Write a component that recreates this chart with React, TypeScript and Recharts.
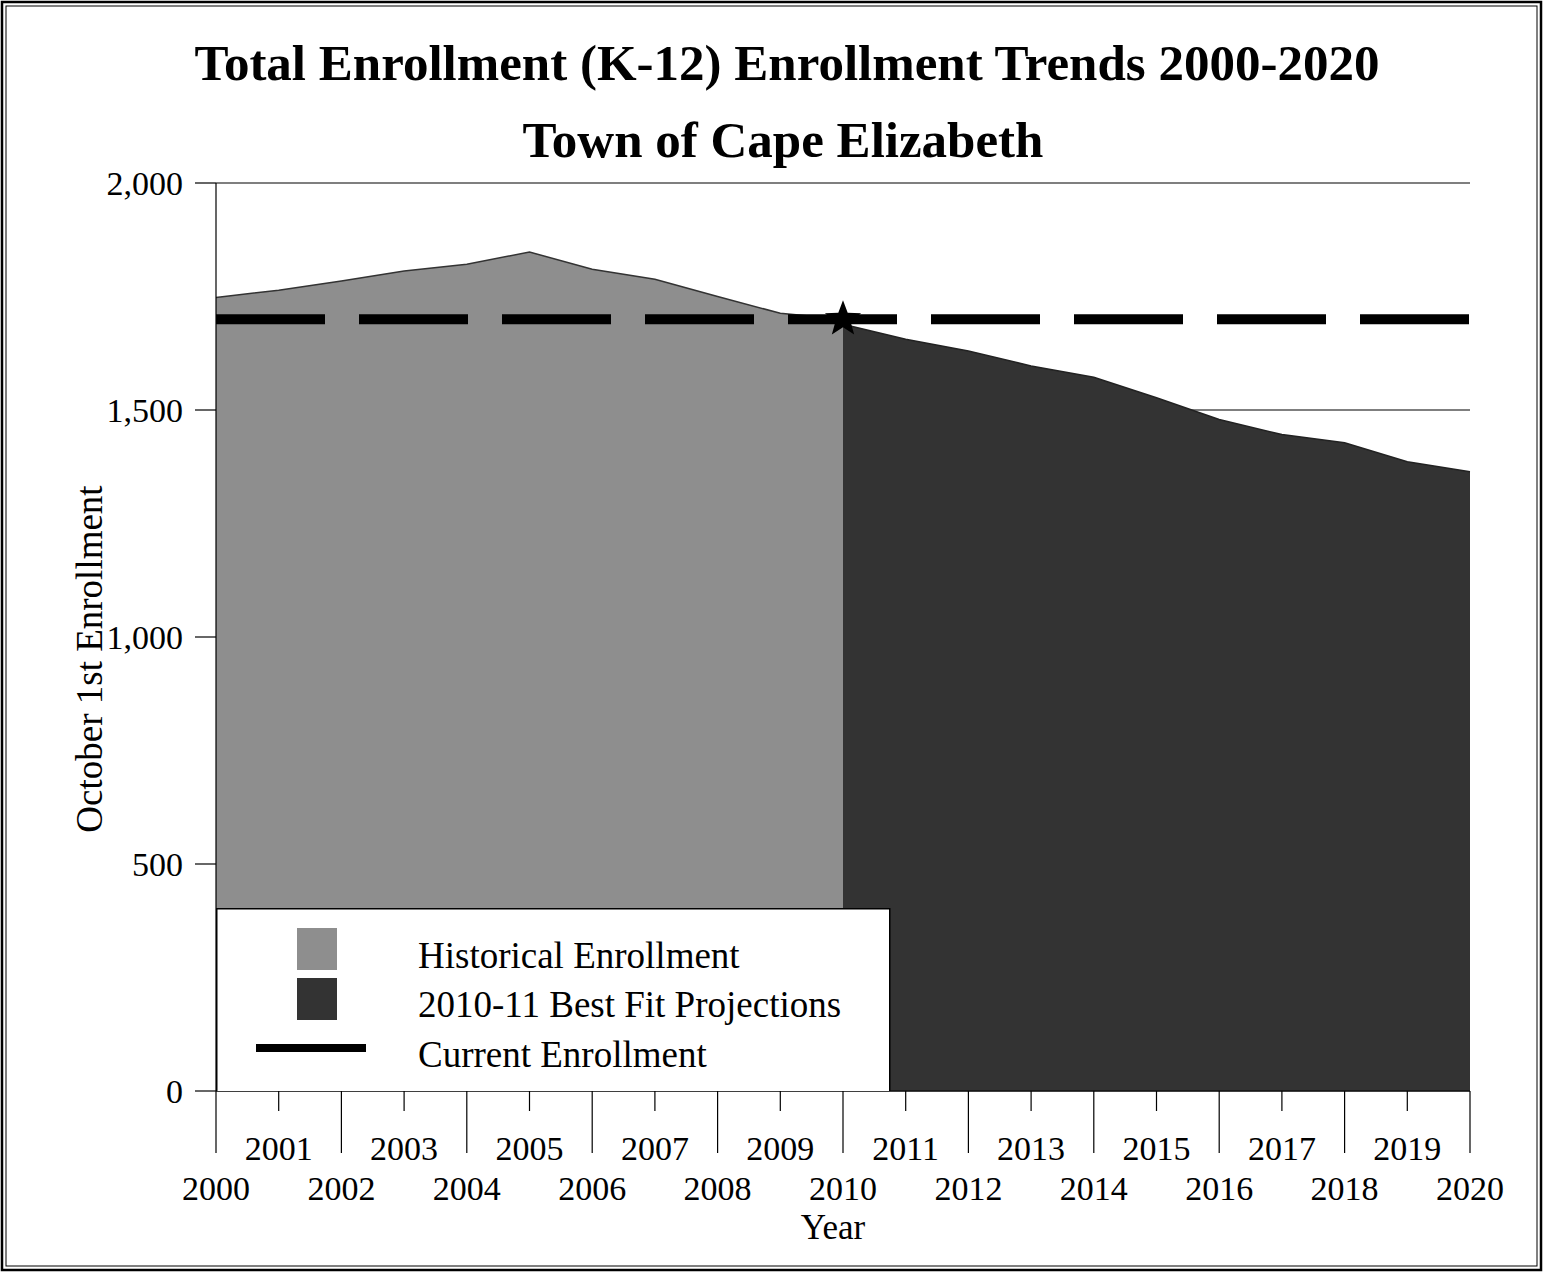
import React from 'react'
import { AreaChart, Area, XAxis, YAxis, CartesianGrid, ReferenceLine, ReferenceDot, Legend } from 'recharts'

const years = [2000, 2001, 2002, 2003, 2004, 2005, 2006, 2007, 2008, 2009, 2010, 2011, 2012, 2013, 2014, 2015, 2016, 2017, 2018, 2019, 2020]
// 2000-2010
const historical = [1748, 1764, 1784, 1806, 1821, 1848, 1810, 1788, 1750, 1713, 1700]
// 2010-2020
const projected = [1689, 1656, 1630, 1597, 1572, 1527, 1479, 1446, 1428, 1386, 1364]
const currentEnrollment = 1700
const yTicks = [0, 500, 1000, 1500, 2000]

const data = years.map((year, i) => ({
  year,
  historical: i <= 10 ? historical[i] : null,
  projected: i >= 10 ? projected[i - 10] : null,
}))

const FONT = '"Liberation Serif", "Times New Roman", serif'
const HIST_FILL = '#8e8e8e'
const PROJ_FILL = '#333333'

function YearTick(props: any) {
  const { x, y, payload } = props
  const odd = payload.value % 2 === 1
  return (
    <g>
      <line x1={x} x2={x} y1={y} y2={y + (odd ? 20 : 62)} stroke="#000" strokeWidth={1.2} />
      <text x={x} y={y + (odd ? 69 : 109)} textAnchor="middle" fontFamily={FONT} fontSize={34} fill="#000">
        {payload.value}
      </text>
    </g>
  )
}

function Star(props: any) {
  const { cx, cy } = props
  const pts: string[] = []
  for (let i = 0; i < 10; i++) {
    const r = i % 2 === 0 ? 19 : 8
    const a = -Math.PI / 2 + (i * Math.PI) / 5
    pts.push(`${cx + r * Math.cos(a)},${cy + r * Math.sin(a)}`)
  }
  return <polygon points={pts.join(' ')} fill="#000" />
}

function LegendBox() {
  return (
    <svg width={675} height={183} style={{ display: 'block' }}>
      <rect x={0.75} y={0.75} width={673} height={183} fill="#fff" stroke="#000" strokeWidth={1.5} />
      <rect x={81} y={20} width={40} height={42} fill={HIST_FILL} />
      <rect x={81} y={70} width={40} height={42} fill={PROJ_FILL} />
      <rect x={40} y={136} width={110} height={8} fill="#000" />
      <text x={202} y={60} fontFamily={FONT} fontSize={37} fill="#000">Historical Enrollment</text>
      <text x={202} y={109} fontFamily={FONT} fontSize={37} fill="#000">2010-11 Best Fit Projections</text>
      <text x={202} y={159} fontFamily={FONT} fontSize={37} fill="#000">Current Enrollment</text>
    </svg>
  )
}

export default function App() {
  return (
    <div style={{ position: 'absolute', left: 0, top: 0, width: 1543, height: 1272, background: '#fff' }}>
      <AreaChart width={1543} height={1272} data={data} margin={{ top: 183, right: 73, bottom: 0, left: 0 }}>
        <CartesianGrid horizontal vertical={false} stroke="#000" strokeWidth={1.2} />
        <XAxis
          dataKey="year"
          type="number"
          domain={[2000, 2020]}
          ticks={years}
          interval={0}
          height={181}
          tickSize={0}
          tickMargin={0}
          tick={<YearTick />}
          axisLine={{ stroke: '#000', strokeWidth: 1.2 }}
        />
        <YAxis
          domain={[0, 2000]}
          ticks={yTicks}
          width={216}
          tickSize={21}
          tickMargin={12}
          tickFormatter={(v: number) => v.toLocaleString('en-US')}
          tick={{ fontFamily: FONT, fontSize: 34, fill: '#000' }}
          tickLine={{ stroke: '#000', strokeWidth: 1.2 }}
          axisLine={{ stroke: '#000', strokeWidth: 1.2 }}
        />
        <YAxis
          yAxisId="right"
          orientation="right"
          domain={[0, 2000]}
          width={0}
          tick={false}
          tickLine={false}
          axisLine={{ stroke: '#000', strokeWidth: 1.2 }}
        />
        <Area
          type="linear"
          dataKey="historical"
          stroke="#333"
          strokeWidth={1.5}
          fill={HIST_FILL}
          fillOpacity={1}
          isAnimationActive={false}
          dot={false}
          activeDot={false}
        />
        <Area
          type="linear"
          dataKey="projected"
          stroke="#222"
          strokeWidth={1.5}
          fill={PROJ_FILL}
          fillOpacity={1}
          isAnimationActive={false}
          dot={false}
          activeDot={false}
        />
        <ReferenceLine y={currentEnrollment} stroke="#000" strokeWidth={10} strokeDasharray="109 34" />
        <ReferenceDot x={2010} y={currentEnrollment} shape={<Star />} />
        <Legend
          layout="horizontal"
          verticalAlign="middle"
          align="center"
          content={() => <LegendBox />}
          wrapperStyle={{ position: 'absolute', left: 216, top: 908, width: 675, height: 183 }}
        />
      </AreaChart>
      <svg width={1543} height={1272} style={{ position: 'absolute', left: 0, top: 0, pointerEvents: 'none' }}>
        <rect x={2} y={2} width={1539} height={1268} fill="none" stroke="#000" strokeWidth={2.5} />
        <rect x={6} y={6} width={1531} height={1260} fill="none" stroke="#000" strokeWidth={1} />
        <text x={787} y={80} textAnchor="middle" fontFamily={FONT} fontWeight="bold" fontSize={51} fill="#000">
          Total Enrollment (K-12) Enrollment Trends 2000-2020
        </text>
        <text x={783} y={157} textAnchor="middle" fontFamily={FONT} fontWeight="bold" fontSize={51} fill="#000">
          Town of Cape Elizabeth
        </text>
        <text
          x={102}
          y={659}
          textAnchor="middle"
          transform="rotate(-90, 102, 659)"
          fontFamily={FONT}
          fontSize={37}
          fill="#000"
        >
          October 1st Enrollment
        </text>
        <text x={833} y={1239} textAnchor="middle" fontFamily={FONT} fontSize={35} fill="#000">
          Year
        </text>
      </svg>
    </div>
  )
}
